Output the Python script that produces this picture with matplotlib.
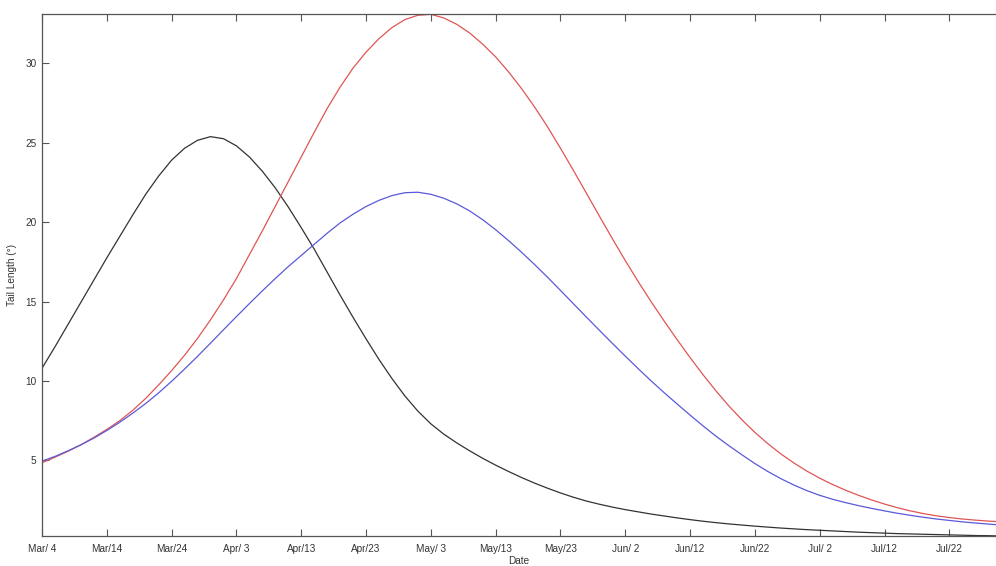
import numpy as np
import matplotlib
matplotlib.use("Agg")
import matplotlib.pyplot as plt

plt.rcParams['font.family'] = ['Liberation Sans', 'DejaVu Sans']

# days since Mar 4, every 2 days
days = list(range(0, 149, 2))

black = [10.8, 12.15, 13.55, 14.95, 16.35, 17.75, 19.1, 20.45, 21.75, 22.9,
         23.9, 24.65, 25.15, 25.38, 25.25, 24.8, 24.1, 23.2, 22.15, 20.95,
         19.65, 18.3, 16.85, 15.4, 14.0, 12.65, 11.35, 10.15, 9.05, 8.1,
         7.3, 6.65, 6.1, 5.6, 5.13, 4.7, 4.3, 3.92, 3.57, 3.25,
         2.95, 2.68, 2.44, 2.24, 2.06, 1.9, 1.76, 1.62, 1.5, 1.38,
         1.27, 1.17, 1.08, 1.0, 0.93, 0.86, 0.8, 0.74, 0.69, 0.64,
         0.6, 0.56, 0.52, 0.48, 0.45, 0.42, 0.39, 0.37, 0.35, 0.33,
         0.31, 0.29, 0.27, 0.26, 0.24]

red = [4.85, 5.2, 5.57, 5.98, 6.45, 6.95, 7.5, 8.15, 8.9, 9.75,
       10.65, 11.62, 12.68, 13.85, 15.1, 16.45, 17.95, 19.45, 21.0, 22.55,
       24.1, 25.65, 27.15, 28.5, 29.7, 30.7, 31.55, 32.25, 32.75, 33.02,
       33.08, 32.85, 32.45, 31.9, 31.2, 30.4, 29.45, 28.4, 27.25, 26.0,
       24.65, 23.25, 21.82, 20.38, 18.96, 17.58, 16.25, 14.98, 13.77, 12.6,
       11.47, 10.39, 9.37, 8.42, 7.55, 6.76, 6.05, 5.41, 4.84, 4.33,
       3.88, 3.48, 3.12, 2.8, 2.51, 2.25, 2.02, 1.82, 1.65, 1.51,
       1.4, 1.31, 1.24, 1.18, 1.13]

blue = [4.95, 5.25, 5.6, 5.98, 6.4, 6.88, 7.4, 7.97, 8.58, 9.25,
        9.98, 10.75, 11.55, 12.38, 13.22, 14.05, 14.87, 15.67, 16.45, 17.2,
        17.9, 18.6, 19.3, 19.95, 20.5, 20.98, 21.37, 21.67, 21.85, 21.88,
        21.75, 21.5, 21.15, 20.7, 20.15, 19.52, 18.83, 18.1, 17.33, 16.53,
        15.7, 14.86, 14.02, 13.19, 12.37, 11.56, 10.77, 10.0, 9.26, 8.55,
        7.85, 7.17, 6.52, 5.92, 5.35, 4.8, 4.3, 3.85, 3.45, 3.1,
        2.8, 2.55, 2.34, 2.15, 1.98, 1.82, 1.67, 1.54, 1.42, 1.31,
        1.22, 1.13, 1.06, 0.99, 0.93]

tick_days = list(range(0, 141, 10))
tick_labels = ['Mar/ 4', 'Mar/14', 'Mar/24', 'Apr/ 3', 'Apr/13', 'Apr/23',
               'May/ 3', 'May/13', 'May/23', 'Jun/ 2', 'Jun/12', 'Jun/22',
               'Jul/ 2', 'Jul/12', 'Jul/22']

fig = plt.figure(figsize=(9.96, 5.66), dpi=100)
ax = fig.add_axes([42 / 996, 30 / 566, 954 / 996, 522 / 566])

ax.plot(days, black, color='#333333', lw=0.9)
ax.plot(days, red, color='#e05555', lw=0.9)
ax.plot(days, blue, color='#5a5ad8', lw=0.9)

ax.set_xlim(0, 147.2)
ax.set_ylim(0.24, 33.1)
ax.set_xticks(tick_days)
ax.set_xticklabels(tick_labels)
ax.set_yticks([5, 10, 15, 20, 25, 30])

ax.tick_params(direction='in', length=5, width=0.8, colors='#555555',
               labelcolor='#333333', labelsize=7.2, top=True, right=False, pad=6)
ax.tick_params(axis='y', pad=4)
for side in ['left', 'bottom', 'top']:
    ax.spines[side].set_color('#555555')
    ax.spines[side].set_linewidth(0.9)
ax.spines['right'].set_visible(False)

ax.set_xlabel('Date', fontsize=7.2, color='#333333', labelpad=1)
ax.set_ylabel('Tail Length (°)', fontsize=7.2, color='#333333', labelpad=6)

fig.savefig('out.png', dpi=100)
